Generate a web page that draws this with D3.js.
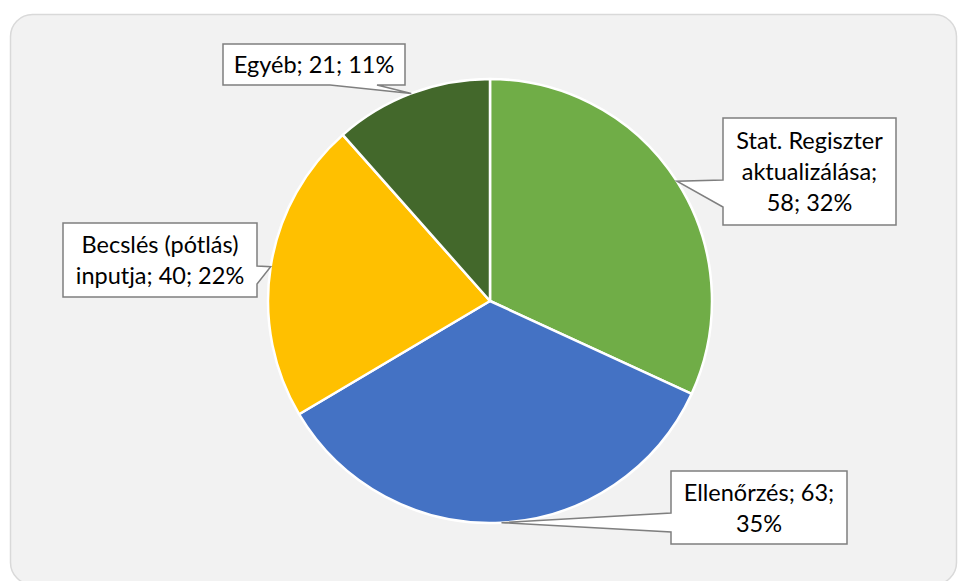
<!DOCTYPE html>
<html>
<head>
<meta charset="utf-8">
<script src="https://cdn.jsdelivr.net/npm/d3@7"></script>
<style>
  html, body { margin: 0; padding: 0; background: #fff; }
  svg { display: block; }
</style>
</head>
<body>
<script>
// chart data (clockwise from 12 o'clock)
const categories = ["Stat. Regiszter aktualizálása", "Ellenőrzés", "Becslés (pótlás) inputja", "Egyéb"];
const values = [58, 63, 40, 21];
const percents = [32, 35, 22, 11];
const colors = ["#70AD47", "#4472C4", "#FFC000", "#43682B"];

// callout boxes: box, side where the pointer leaves, pointer base offsets along that side
const callouts = [
  { x: 723, y: 118, w: 173, h: 107, side: "left",   b: [62, 89] },
  { x: 671, y: 471, w: 176, h: 73,  side: "left",   b: [42, 61] },
  { x: 63,  y: 223, w: 194, h: 74,  side: "right",  b: [43, 61] },
  { x: 223, y: 44,  w: 182, h: 41,  side: "bottom", b: [107, 154] }
];

const W = 958, H = 581;
const cx = 490, cy = 301, radius = 222;
const fontSize = 23.5, lineH = 31;

const svg = d3.select("body").append("svg")
    .attr("width", W)
    .attr("height", H);

// chart area frame
svg.append("rect")
    .attr("x", 10.5).attr("y", 14.5)
    .attr("width", 946).attr("height", 570)
    .attr("rx", 22)
    .attr("fill", "#F2F2F2")
    .attr("stroke", "#D9D9D9")
    .attr("stroke-width", 1.5);

const data = categories.map((c, i) => ({ name: c, value: values[i], pct: percents[i], color: colors[i], box: callouts[i] }));

const pie = d3.pie().sort(null).value(d => d.value);
const arcs = pie(data);

const arc = d3.arc().innerRadius(0).outerRadius(radius);
const edge = d3.arc().innerRadius(radius).outerRadius(radius);

const g = svg.append("g").attr("transform", `translate(${cx}, ${cy})`);

g.selectAll("path.slice")
  .data(arcs)
  .enter().append("path")
    .attr("class", "slice")
    .attr("d", arc)
    .attr("fill", d => d.data.color)
    .attr("stroke", "#fff")
    .attr("stroke-width", 2.5)
    .attr("stroke-linejoin", "round");

// callout shape with pointer to the slice edge
function calloutPath(b, tip) {
  const x0 = b.x, y0 = b.y, x1 = b.x + b.w, y1 = b.y + b.h;
  const [t0, t1] = b.b;
  const pts = [[x0, y0]];
  if (b.side === "top") pts.push([x0 + t0, y0], tip, [x0 + t1, y0]);
  pts.push([x1, y0]);
  if (b.side === "right") pts.push([x1, y0 + t0], tip, [x1, y0 + t1]);
  pts.push([x1, y1]);
  if (b.side === "bottom") pts.push([x0 + t1, y1], tip, [x0 + t0, y1]);
  pts.push([x0, y1]);
  if (b.side === "left") pts.push([x0, y0 + t1], tip, [x0, y0 + t0]);
  return "M" + pts.map(p => p.join(",")).join("L") + "Z";
}

const labels = svg.append("g").attr("class", "labels");

const measure = svg.append("text")
    .style("font-family", "Lato, 'Open Sans', sans-serif")
    .style("font-size", fontSize + "px");

function wrap(text, maxW) {
  const words = text.split(" ");
  const lines = [];
  let cur = "";
  words.forEach(w => {
    const tryLine = cur ? cur + " " + w : w;
    measure.text(tryLine);
    if (cur && measure.node().getComputedTextLength() > maxW) {
      lines.push(cur);
      cur = w;
    } else {
      cur = tryLine;
    }
  });
  if (cur) lines.push(cur);
  return lines;
}

arcs.forEach(a => {
  const d = a.data, b = d.box;
  const c = edge.centroid(a);
  const tip = [cx + c[0], cy + c[1]];

  labels.append("path")
      .attr("d", calloutPath(b, tip))
      .attr("fill", "#fff")
      .attr("stroke", "#7F7F7F")
      .attr("stroke-width", 1.5)
      .attr("stroke-linejoin", "miter");

  const lines = wrap(`${d.name}; ${d.value}; ${d.pct}%`, b.w - 6);
  const midY = b.y + b.h / 2;
  const t = labels.append("text")
      .attr("text-anchor", "middle")
      .style("font-family", "Lato, 'Open Sans', sans-serif")
      .style("font-size", fontSize + "px")
      .attr("fill", "#000");
  lines.forEach((ln, i) => {
    t.append("tspan")
        .attr("x", b.x + b.w / 2)
        .attr("y", midY + (i - (lines.length - 1) / 2) * lineH + 8.5)
        .text(ln);
  });
});

measure.remove();
</script>
</body>
</html>
